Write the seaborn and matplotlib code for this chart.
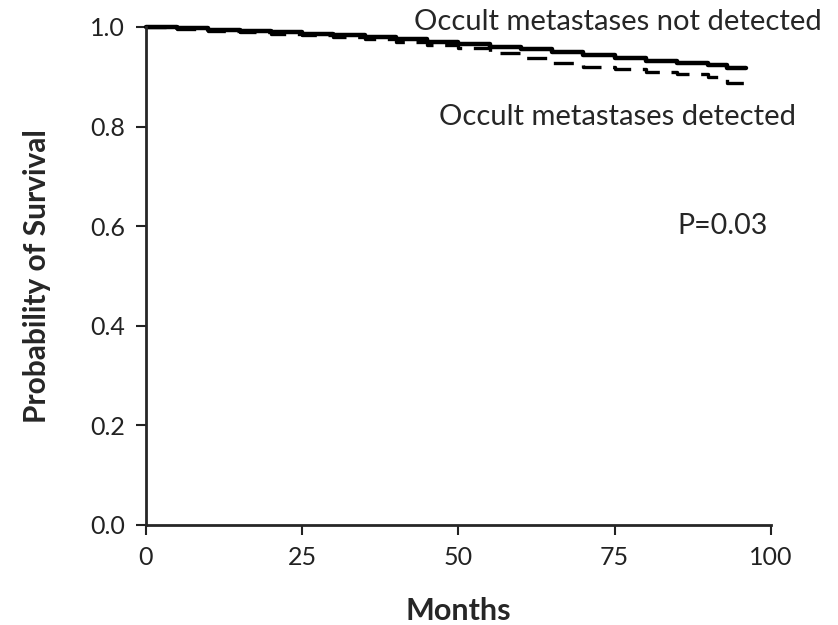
import matplotlib
matplotlib.use("Agg")
import matplotlib.pyplot as plt
import seaborn as sns
import pandas as pd

months = [0, 5, 10, 15, 20, 25, 30, 35, 40, 45, 50, 55, 60, 65, 70, 75, 80, 85, 90, 93, 96]
not_detected = [1.0, 0.999, 0.997, 0.994, 0.992, 0.989, 0.986, 0.983, 0.979, 0.975, 0.970,
                0.965, 0.960, 0.955, 0.950, 0.944, 0.938, 0.932, 0.928, 0.924, 0.918]
detected = [1.0, 0.999, 0.996, 0.992, 0.989, 0.986, 0.983, 0.980, 0.976, 0.970, 0.964,
            0.957, 0.948, 0.938, 0.928, 0.920, 0.915, 0.910, 0.906, 0.900, 0.888]

df = pd.DataFrame({
    'Months': months * 2,
    'Survival': not_detected + detected,
    'Group': ['not'] * len(months) + ['det'] * len(months),
})

sns.set_style('ticks')
plt.rcParams['font.family'] = ['Lato', 'DejaVu Sans']

fig = plt.figure(figsize=(8.38, 6.25), dpi=100)
ax = fig.add_axes([0.174, 0.16, 0.746, 0.797])

sns.lineplot(data=df[df.Group == 'not'], x='Months', y='Survival', color='black',
             linewidth=3.2, drawstyle='steps-pre', ax=ax)
sns.lineplot(data=df[df.Group == 'det'], x='Months', y='Survival', color='black',
             linewidth=2.4, drawstyle='steps-pre', ax=ax)
ax.lines[1].set_linestyle((0, (6, 3.5)))

ax.set_xlim(0, 100)
ax.set_ylim(0, 1.0)
ax.set_xticks([0, 25, 50, 75, 100])
ax.set_yticks([0.0, 0.2, 0.4, 0.6, 0.8, 1.0])
ax.set_yticklabels(['0.0', '0.2', '0.4', '0.6', '0.8', '1.0'])
ax.tick_params(labelsize=18, length=7, width=1.5, pad=8, direction='out', colors='#222222')
for s in ['left', 'bottom']:
    ax.spines[s].set_linewidth(2)
for s in ['top', 'right']:
    ax.spines[s].set_visible(False)
for ln in ax.lines:
    ln.set_clip_on(False)

ax.set_xlabel('Months', fontsize=22, fontweight='bold', labelpad=20)
ax.set_ylabel('Probability of Survival', fontsize=21.5, fontweight='bold', labelpad=28)

ax.text(108.2, 1.01, 'Occult metastases not detected', fontsize=21, ha='right', va='center')
ax.text(104, 0.82, 'Occult metastases detected', fontsize=21, ha='right', va='center')
ax.text(99.5, 0.6, 'P=0.03', fontsize=20.5, ha='right', va='center')

fig.savefig('out.png', dpi=100)
